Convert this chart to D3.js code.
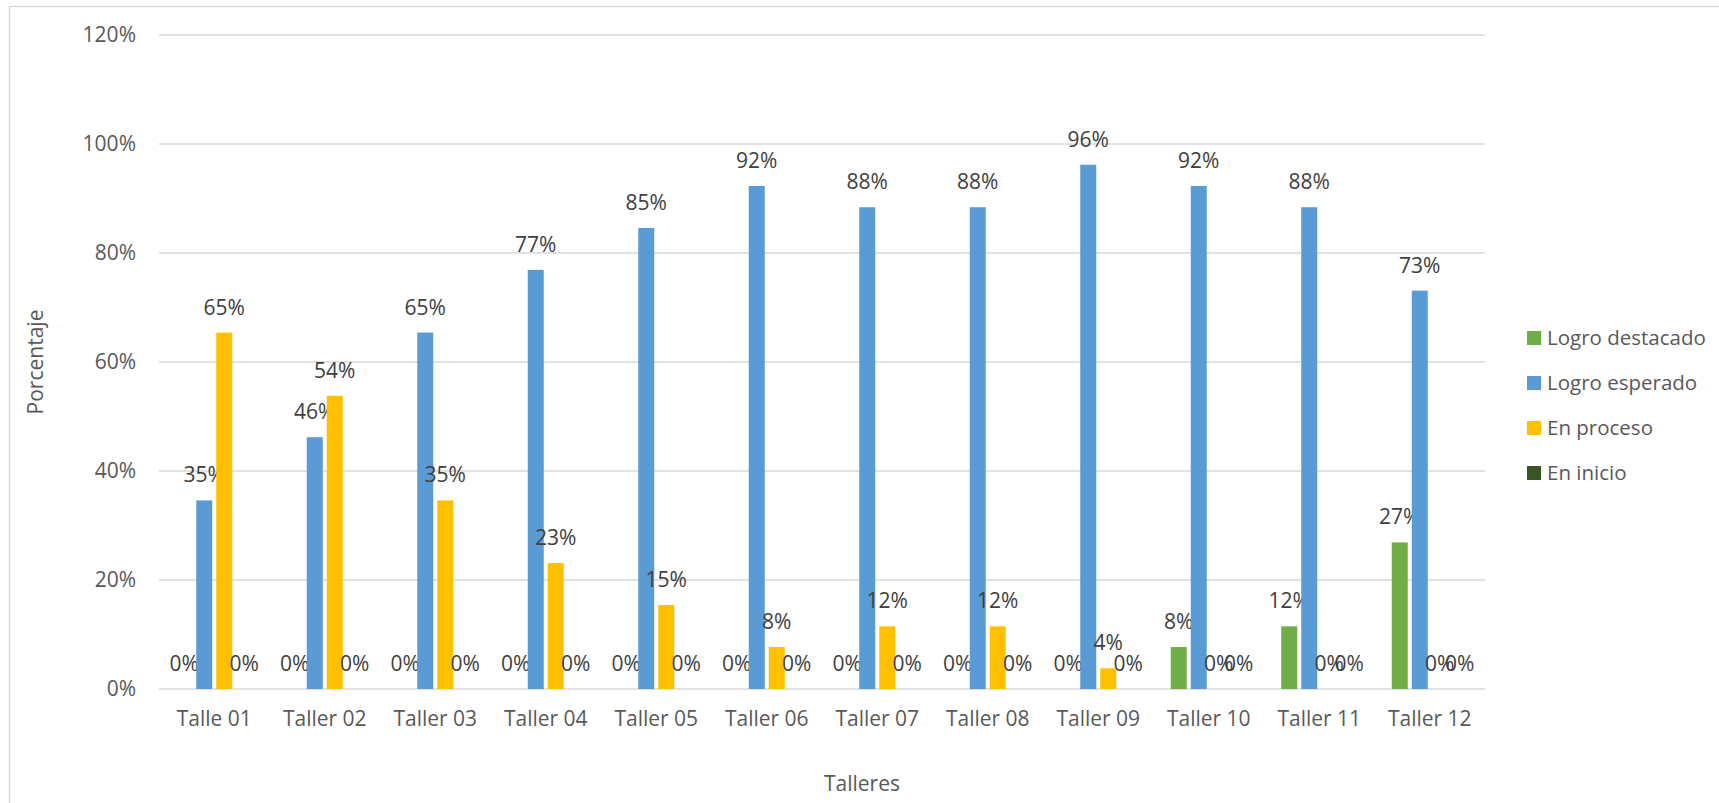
<!DOCTYPE html>
<html>
<head>
<meta charset="utf-8">
<script src="https://cdn.jsdelivr.net/npm/d3@7"></script>
<style>
  body { margin: 0; background: #fff; }
  text { font-family: "Open Sans", sans-serif; }
</style>
</head>
<body>
<script>
var talleres = ['Talle 01', 'Taller 02', 'Taller 03', 'Taller 04', 'Taller 05', 'Taller 06',
  'Taller 07', 'Taller 08', 'Taller 09', 'Taller 10', 'Taller 11', 'Taller 12']
var series = ['Logro destacado', 'Logro esperado', 'En proceso', 'En inicio']
var colors = ['#70AD47', '#5B9BD5', '#FFC000', '#375623']

var logroDestacado = [0, 0, 0, 0, 0, 0, 0, 0, 0, 7.7, 11.5, 26.9]
var logroEsperado = [34.6, 46.2, 65.4, 76.9, 84.6, 92.3, 88.4, 88.4, 96.2, 92.3, 88.4, 73.1]
var enProceso = [65.4, 53.8, 34.6, 23.1, 15.4, 7.7, 11.5, 11.5, 3.8, 0, 0, 0]
var enInicio = [0, 0, 0, 0, 0, 0, 0, 0, 0, 0, 0, 0]
var yTicks = [0, 20, 40, 60, 80, 100, 120]

var values = [logroDestacado, logroEsperado, enProceso, enInicio]

var W = 1719, H = 803
var plotLeft = 159, plotRight = 1485, plotTop = 35, plotBottom = 689

var svg = d3.select('body')
  .append('svg')
  .attr('width', W)
  .attr('height', H)

// chart border
svg.append('rect')
  .attr('x', 9.5).attr('y', 6.5)
  .attr('width', W + 20).attr('height', H + 20)
  .style('fill', 'none')
  .style('stroke', '#D9D9D9')
  .style('stroke-width', '1.5px')

var x0 = d3.scaleBand().domain(talleres).range([plotLeft, plotRight])
var x1 = d3.scaleBand().domain(series).range([-38, 38]).paddingInner(0.2)
var y = d3.scaleLinear().domain([0, 120]).range([plotBottom, plotTop])

// gridlines
svg.append('g')
  .selectAll('line')
  .data(yTicks)
  .enter()
  .append('line')
  .attr('x1', plotLeft).attr('x2', plotRight)
  .attr('y1', function(d) { return y(d) })
  .attr('y2', function(d) { return y(d) })
  .style('stroke', '#D9D9D9')
  .style('stroke-width', '1.5px')

// y axis labels
var yAxis = svg.append('g')
  .attr('transform', 'translate(' + (plotLeft - 23) + ',0)')
  .call(d3.axisLeft(y).tickValues(yTicks).tickSize(0).tickPadding(0)
    .tickFormat(function(d) { return d + '%' }))
yAxis.select('.domain').remove()
yAxis.selectAll('text')
  .style('font-family', '"Open Sans", sans-serif')
  .style('font-size', '21px')
  .style('fill', '#595959')

// x axis labels
var xAxis = svg.append('g')
  .attr('transform', 'translate(0,' + plotBottom + ')')
  .call(d3.axisBottom(x0).tickSize(0).tickPadding(22))
xAxis.select('.domain').remove()
xAxis.selectAll('text')
  .style('font-family', '"Open Sans", sans-serif')
  .style('font-size', '21px')
  .style('fill', '#595959')

var groups = svg.append('g')
  .selectAll('g')
  .data(talleres)
  .enter()
  .append('g')
  .attr('transform', function(d) { return 'translate(' + (x0(d) + x0.bandwidth() / 2) + ',0)' })

var cells = groups.selectAll('.cell')
  .data(function(d, i) {
    return series.map(function(s, j) { return { s: s, j: j, v: values[j][i] } })
  })
  .enter()
  .append('g')
  .classed('cell', true)

cells.append('rect')
  .attr('x', function(d) { return x1(d.s) })
  .attr('width', x1.bandwidth())
  .attr('y', function(d) { return y(d.v) })
  .attr('height', function(d) { return y(0) - y(d.v) })
  .style('fill', function(d) { return colors[d.j] })

cells.append('text')
  .attr('x', function(d) { return x1(d.s) + x1.bandwidth() / 2 })
  .attr('y', function(d) { return y(d.v) - 18 })
  .attr('text-anchor', 'middle')
  .style('font-size', '21px')
  .style('fill', '#404040')
  .text(function(d) { return Math.round(d.v) + '%' })

// axis titles
svg.append('text')
  .attr('transform', 'translate(43,' + ((plotTop + plotBottom) / 2) + ') rotate(-90)')
  .attr('text-anchor', 'middle')
  .style('font-size', '21px')
  .style('fill', '#595959')
  .text('Porcentaje')

svg.append('text')
  .attr('x', 862).attr('y', 791)
  .attr('text-anchor', 'middle')
  .style('font-size', '21px')
  .style('fill', '#595959')
  .text('Talleres')

// legend
var legend = svg.append('g')
  .selectAll('g')
  .data(series)
  .enter()
  .append('g')
  .attr('transform', function(d, i) { return 'translate(1527,' + (338 + i * 45) + ')' })

legend.append('rect')
  .attr('x', 0).attr('y', -7)
  .attr('width', 14).attr('height', 14)
  .style('fill', function(d, i) { return colors[i] })

legend.append('text')
  .attr('x', 20).attr('y', 7)
  .style('font-size', '20.5px')
  .style('fill', '#595959')
  .text(function(d) { return d })
</script>
</body>
</html>
